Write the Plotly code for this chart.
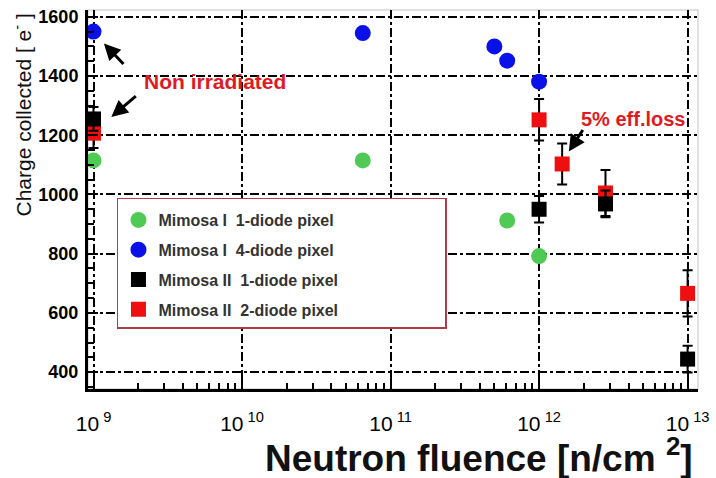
import plotly.graph_objects as go

FONT = "Liberation Sans, Arial, sans-serif"

# ---- data ----
green_x = [1e9, 6.5e10, 6.1e11, 1e12]
green_y = [1115, 1115, 912, 792]

blue_x = [1e9, 6.5e10, 5.0e11, 6.1e11, 1e12]
blue_y = [1550, 1545, 1500, 1452, 1381]

black_x = [1e9, 1e12, 2.8e12, 1e13]
black_y = [1255, 950, 968, 444]
black_err = [40, 45, 45, 45]

red_x = [1e9, 1e12, 1.43e12, 2.8e12, 1e13]
red_y = [1207, 1252, 1103, 1005, 666]
red_err = [50, 70, 69, 78, 78]

x_tickvals = [1e9, 1e10, 1e11, 1e12, 1e13]
x_ticktext = ["10<sup> 9</sup>", "10<sup> 10</sup>", "10<sup> 11</sup>",
              "10<sup> 12</sup>", "10<sup> 13</sup>"]
y_tickvals = [400, 600, 800, 1000, 1200, 1400, 1600]

NB = "\u00a0"
PAD = NB * 23
names = [f"Mimosa I{NB}{NB}1-diode pixel", f"Mimosa I{NB}{NB}4-diode pixel",
         f"Mimosa II{NB}{NB}1-diode pixel", f"Mimosa II{NB}{NB}2-diode pixel"]

fig = go.Figure()
fig.add_trace(go.Scatter(x=green_x, y=green_y, mode="markers", name=names[0] + PAD,
                         legendrank=1, legendgroup="g",
                         marker=dict(symbol="circle", size=16, color="#4fcb55")))
fig.add_trace(go.Scatter(x=blue_x, y=blue_y, mode="markers", name=names[1] + PAD,
                         legendrank=2, legendgroup="b",
                         marker=dict(symbol="circle", size=16, color="#0a10e8")))
fig.add_trace(go.Scatter(x=red_x, y=red_y, mode="markers", name=names[3] + PAD,
                         legendrank=4, legendgroup="r",
                         marker=dict(symbol="square", size=15, color="#ee1010"),
                         error_y=dict(type="data", array=red_err, color="black",
                                      thickness=2, width=5)))
fig.add_trace(go.Scatter(x=black_x, y=black_y, mode="markers", name=names[2] + PAD,
                         legendrank=3, legendgroup="k",
                         marker=dict(symbol="square", size=15, color="black"),
                         error_y=dict(type="data", array=black_err, color="black",
                                      thickness=2, width=5)))

fig.update_layout(
    width=716, height=478,
    margin=dict(l=88, r=18, t=7, b=89),
    paper_bgcolor="white", plot_bgcolor="white",
    font=dict(family=FONT, color="black"),
    legend=dict(x=0.0475, y=0.505, xanchor="left", yanchor="top",
                bgcolor="white", bordercolor="#b03a48", borderwidth=1.5,
                font=dict(size=16, color="#333333", family=FONT, weight="bold"),
                title=dict(text=NB, font=dict(size=3)),
                tracegroupgap=6, itemwidth=30),
    showlegend=True,
)

fig.update_xaxes(
    type="log", range=[8.963, 13.07],
    tickvals=x_tickvals, ticktext=x_ticktext,
    tickfont=dict(size=21, family=FONT),
    ticks="inside", ticklen=12, tickwidth=2, tickcolor="black",
    ticklabelstandoff=14,
    showline=True, linecolor="black", linewidth=3,
    showgrid=True, gridcolor="black", griddash="dashdot", gridwidth=1.5,
    zeroline=False,
    minor=dict(ticks="inside", ticklen=6, tickwidth=1.5, tickcolor="black",
               showgrid=False,
               tickvals=[m * 10 ** e for e in range(9, 13) for m in range(2, 10)]),
)
fig.update_yaxes(
    range=[343, 1623],
    tickvals=y_tickvals,
    tickfont=dict(size=18, family=FONT, weight="bold"),
    ticks="inside", ticklen=10, tickwidth=2, tickcolor="black",
    ticklabelstandoff=3,
    showline=True, linecolor="black", linewidth=3,
    showgrid=True, gridcolor="black", griddash="dashdot", gridwidth=1.5,
    zeroline=False,
    minor=dict(ticks="inside", ticklen=6, tickwidth=1.5, tickcolor="black",
               showgrid=False, dtick=50),
)

# light grey frame (top / right)
fig.add_shape(type="rect", xref="paper", yref="paper", x0=0, x1=1, y0=0, y1=1,
              line=dict(color="#d8d8d8", width=1.5), layer="below")

# axis titles
fig.add_annotation(xref="paper", yref="paper", x=0.995, y=-0.109, xanchor="right",
                   yanchor="top", showarrow=False,
                   text="<b>Neutron fluence [n/cm <sup>2</sup>]</b>",
                   font=dict(size=37, family=FONT, color="#111111"))
fig.add_annotation(xref="paper", yref="paper", x=-0.108, y=0.995, xanchor="center",
                   yanchor="top", showarrow=False, textangle=-90,
                   text="Charge collected [ e<sup>-</sup> ]",
                   font=dict(size=21, family=FONT, color="#111111"))

# text annotations
fig.add_annotation(x=9.82, y=1381, showarrow=False,
                   text="<b>Non irradiated</b>",
                   font=dict(size=21, family=FONT, color="#e01a22"))
fig.add_annotation(x=12.63, y=1254, showarrow=False,
                   text="<b>5% eff.loss</b>",
                   font=dict(size=20, family=FONT, color="#e01a22"))

# arrows
arrow = dict(showarrow=True, arrowhead=2, arrowsize=1.1, arrowwidth=3,
             arrowcolor="black", text="", axref="pixel", ayref="pixel")
fig.add_annotation(x=9.07, y=1510, ax=21, ay=22, **arrow)
fig.add_annotation(x=9.12, y=1262, ax=26, ay=-22, **arrow)
fig.add_annotation(x=12.2, y=1145, ax=15, ay=-23, **arrow)

fig.write_html("out.html")
